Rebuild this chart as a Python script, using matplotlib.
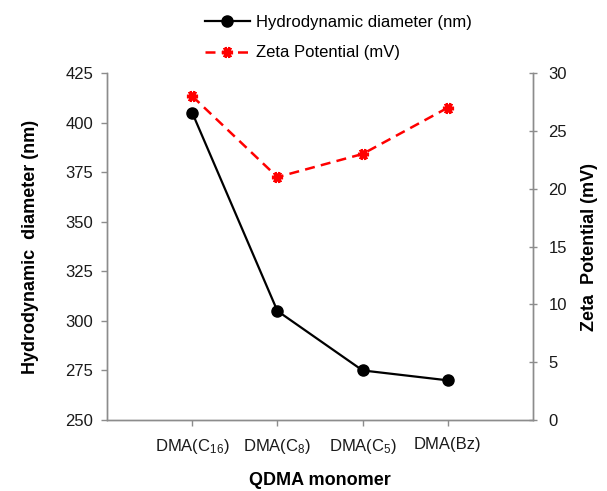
import matplotlib
matplotlib.use("Agg")
import matplotlib.pyplot as plt

plt.rcParams['font.family'] = ['Liberation Sans', 'DejaVu Sans']

categories = [r'$\mathregular{DMA(C_{16})}$', r'$\mathregular{DMA(C_{8})}$',
              r'$\mathregular{DMA(C_{5})}$', 'DMA(Bz)']
hydro_nm = [405, 305, 275, 270]
zeta_mV = [28, 21, 23, 27]
left_ticks = [250, 275, 300, 325, 350, 375, 400, 425]
right_ticks = [0, 5, 10, 15, 20, 25, 30]

fig = plt.figure(figsize=(6.07, 4.91), dpi=100)
ax = fig.add_axes([107/607, 1-420/491, (533-107)/607, (420-73)/491])
ax2 = ax.twinx()

x = [1, 2, 3, 4]
l1, = ax.plot(x, hydro_nm, color='black', lw=1.6, marker='o', ms=8,
              label='Hydrodynamic diameter (nm)', zorder=3)
l2, = ax2.plot(x, zeta_mV, color='#ff0000', lw=1.8, ls=(0, (4, 2.5)),
               marker=(6, 2, 90), ms=8, mew=2.5,
               label='Zeta Potential (mV)', zorder=3)

ax.set_xlim(0, 5)
ax.set_ylim(250, 425)
ax2.set_ylim(0, 30)
ax.set_yticks(left_ticks)
ax2.set_yticks(right_ticks)
ax.set_xticks(x)
ax.set_xticklabels(categories)

spine_c = '#8c8c8c'
for a in (ax, ax2):
    for s in a.spines.values():
        s.set_color(spine_c)
        s.set_linewidth(1.0)
    a.spines['top'].set_visible(False)
    a.tick_params(colors=spine_c, labelcolor='#1a1a1a', labelsize=12, length=4, width=1.0)
ax.tick_params(axis='x', pad=8)
ax.tick_params(axis='y', pad=6)
ax2.tick_params(axis='y', direction='inout', length=6, pad=8)

ax.set_ylabel('Hydrodynamic  diameter (nm)', fontsize=13, fontweight='bold', labelpad=19)
ax2.set_ylabel('Zeta  Potential (mV)', fontsize=13, fontweight='bold', labelpad=10)
ax.set_xlabel('QDMA monomer', fontsize=13, fontweight='bold', labelpad=12)

fig.legend(handles=[l1, l2], loc='upper left', bbox_to_anchor=(198/607, 1-8/491),
           frameon=False, fontsize=12, handlelength=2.7, handletextpad=0.4,
           labelspacing=0.95, borderaxespad=0)

fig.savefig('out.png', dpi=100)
